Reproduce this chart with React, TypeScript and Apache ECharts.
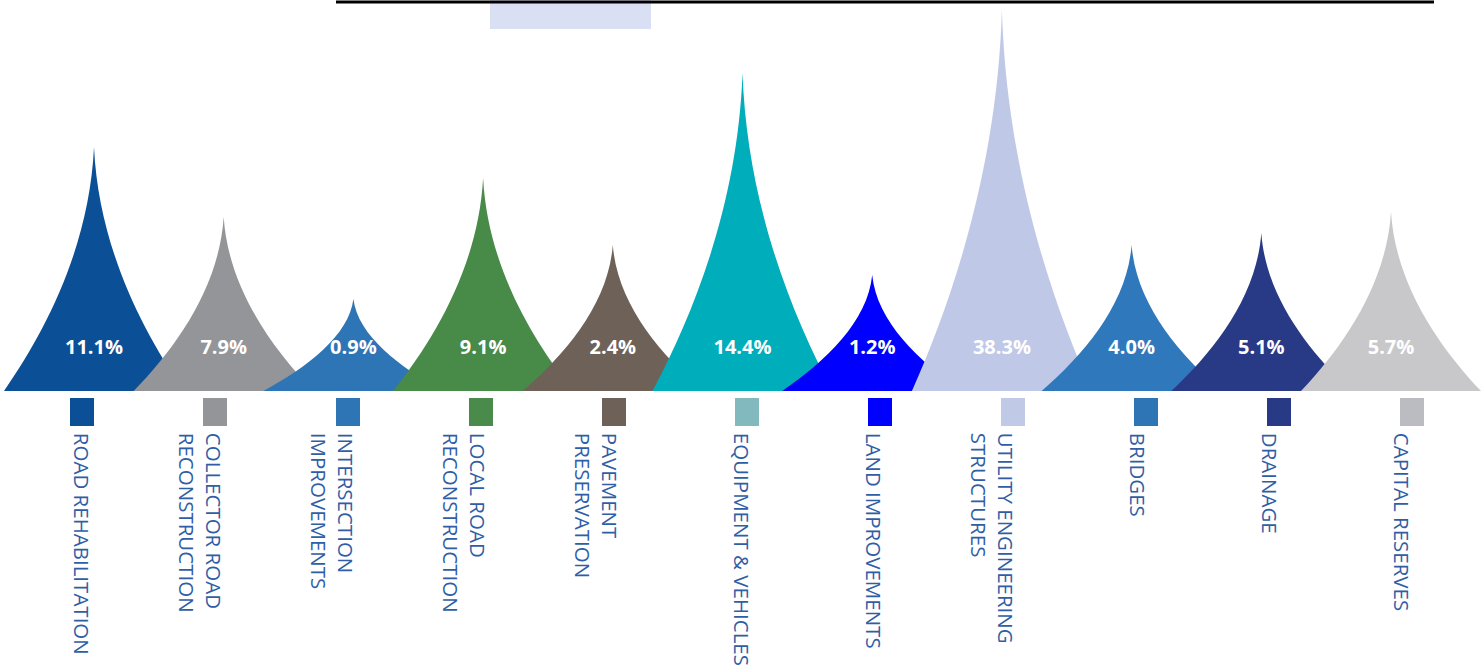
import React, { useEffect, useRef } from "react";
import * as echarts from "echarts";

const categories = [
  "ROAD REHABILITATION",
  "COLLECTOR ROAD\nRECONSTRUCTION",
  "INTERSECTION\nIMPROVEMENTS",
  "LOCAL ROAD\nRECONSTRUCTION",
  "PAVEMENT\nPRESERVATION",
  "EQUIPMENT & VEHICLES",
  "LAND IMPROVEMENTS",
  "UTILITY ENGINEERING\nSTRUCTURES",
  "BRIDGES",
  "DRAINAGE",
  "CAPITAL RESERVES",
];

const shares = [11.1, 7.9, 0.9, 9.1, 2.4, 14.4, 1.2, 38.3, 4.0, 5.1, 5.7];

const spikeHeights = [244, 174, 92, 213, 146, 318, 116, 381, 146, 158, 179];

const spikeColors = [
  "#0b5097", "#939598", "#2e75b6", "#488a48", "#6e6158", "#00adbb",
  "#0000fe", "#bfc9e7", "#2f78bc", "#283a85", "#c8c8ca",
];

const squareColors = [
  "#0b5097", "#949599", "#2e75b6", "#4a8a4a", "#6e6158", "#81b9be",
  "#0000fe", "#c0c9e6", "#2e75b6", "#283a85", "#bbbcc2",
];

const SPIKE =
  "path://M0,10 C2.4,7.45 4.75,4 5,0 C5.25,4 7.6,7.45 10,10 Z";

export default function App() {
  const ref = useRef<HTMLDivElement>(null);

  useEffect(() => {
    document.body.style.margin = "0";
    if (!ref.current) return;
    const chart = echarts.init(ref.current, undefined, { renderer: "svg" });
    const option = {
      animation: false,
      backgroundColor: "#ffffff",
      grid: [
        { left: 29.15, width: 1426.7, top: 6, height: 385 },
        { left: 15.5, width: 1463, top: 396, height: 32 },
        { left: 29, width: 1463, top: 403, height: 32 },
      ],
      xAxis: [
        {
          type: "category",
          gridIndex: 0,
          data: categories,
          axisLine: { show: false },
          axisTick: { show: false },
          axisLabel: { show: false },
        },
        {
          type: "category",
          gridIndex: 1,
          data: categories,
          axisLine: { show: false },
          axisTick: { show: false },
          axisLabel: { show: false },
        },
        {
          type: "category",
          gridIndex: 2,
          data: categories,
          axisLine: { show: false },
          axisTick: { show: false },
          axisLabel: {
            show: true,
            interval: 0,
            rotate: -90,
            margin: 14,
            verticalAlign: "top",
            fontFamily: "Open Sans",
            fontSize: 20.5,
            lineHeight: 27,
            color: "#2f5ea6",
          },
        },
      ],
      yAxis: [
        { type: "value", gridIndex: 0, min: 0, max: 385, show: false },
        { type: "value", gridIndex: 1, min: 0, max: 1, show: false },
        { type: "value", gridIndex: 2, min: 0, max: 1, show: false },
      ],
      graphic: [
        {
          type: "rect",
          shape: { x: 490, y: 0, width: 161, height: 29 },
          style: { fill: "#dae0f3" },
          z: 1,
        },
        {
          type: "line",
          shape: { x1: 336, y1: 2, x2: 1434, y2: 2 },
          style: { stroke: "#000000", lineWidth: 3 },
          z: 2,
        },
      ],
      series: [
        {
          type: "pictorialBar",
          xAxisIndex: 0,
          yAxisIndex: 0,
          barWidth: 180,
          symbol: SPIKE,
          symbolSize: ["100%", "100%"],
          symbolPosition: "start",
          data: spikeHeights.map((v, i) => ({
            value: v,
            itemStyle: { color: spikeColors[i] },
          })),
          label: {
            show: true,
            position: "insideBottom",
            distance: 35,
            color: "#ffffff",
            fontFamily: "Open Sans",
            fontWeight: "bold",
            fontSize: 20,
            formatter: (p: any) => shares[p.dataIndex].toFixed(1) + "%",
          },
        },
        {
          type: "scatter",
          xAxisIndex: 1,
          yAxisIndex: 1,
          symbol: "rect",
          symbolSize: [24, 28],
          itemStyle: { opacity: 1 },
          data: categories.map((c, i) => ({
            value: [c, 0.5],
            itemStyle: { color: squareColors[i], opacity: 1 },
          })),
        },
      ],
    };
    chart.setOption(option as any);
    return () => chart.dispose();
  }, []);

  return <div ref={ref} style={{ width: 1481, height: 669 }} />;
}
